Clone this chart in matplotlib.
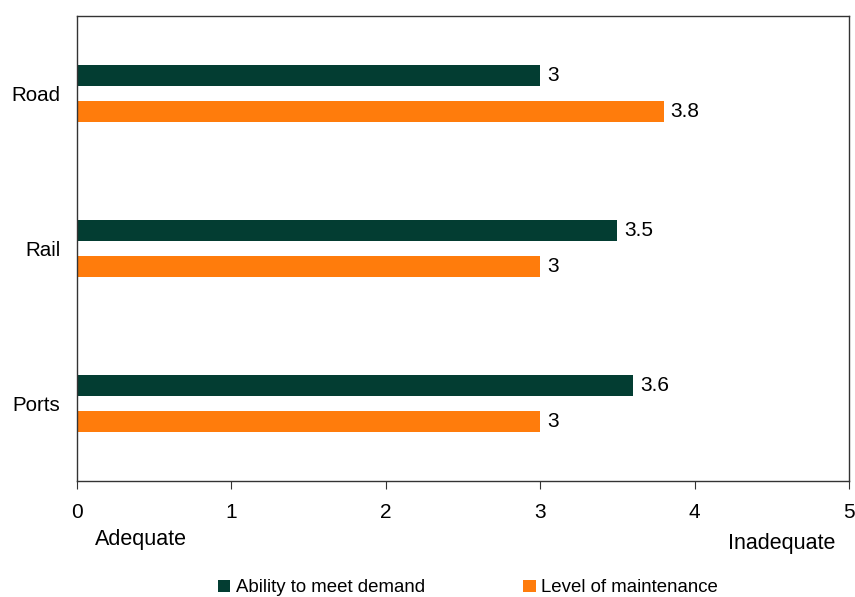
import matplotlib
matplotlib.use("Agg")
import matplotlib.pyplot as plt
import numpy as np

plt.rcParams['font.family'] = ['Liberation Sans', 'DejaVu Sans']

categories = ["Ports", "Rail", "Road"]
ability = [3.6, 3.5, 3.0]
maintenance = [3.0, 3.0, 3.8]
series_names = ["Ability to meet demand", "Level of maintenance"]
colors = ["#033d32", "#ff7c0c"]
xticks = [0, 1, 2, 3, 4, 5]

fig = plt.figure(figsize=(8.55, 5.97), dpi=100)
ax = fig.add_axes([77/855, 1-481/597, (849-77)/855, (481-16)/597])

y = np.arange(len(categories))
h = 0.135
off = 0.116
b1 = ax.barh(y + off, ability, height=h, color=colors[0], label=series_names[0])
b2 = ax.barh(y - off, maintenance, height=h, color=colors[1], label=series_names[1])

for bars, vals in ((b1, ability), (b2, maintenance)):
    for rect, v in zip(bars, vals):
        ax.annotate(f"{v:g}", xy=(v, rect.get_y() + rect.get_height()/2),
                    xytext=(5, 0), textcoords="offset points",
                    ha="left", va="center", fontsize=15)

ax.set_xlim(0, 5)
ax.set_ylim(-0.5, 2.5)
ax.set_xticks(xticks)
ax.set_xticklabels([str(t) for t in xticks], fontsize=15)
ax.set_yticks(y)
ax.set_yticklabels(categories, fontsize=14.8)
ax.tick_params(axis='y', length=0, pad=12)
ax.tick_params(axis='x', length=6, direction='out', pad=10, color='#333333')
for s in ax.spines.values():
    s.set_color('#333333')
    s.set_linewidth(1.0)

fig.text(141/855, 1-540/597, "Adequate", ha="center", va="center", fontsize=15.5)
fig.text(782/855, 1-543/597, "Inadequate", ha="center", va="center", fontsize=15.5)

fig.legend(handles=[b1, b2], labels=series_names, loc="center",
           bbox_to_anchor=(468/855, 1-588/597), ncol=2, frameon=False,
           fontsize=13.4, handlelength=0.65, handleheight=0.65,
           handletextpad=0.3, columnspacing=5.3)

fig.savefig("out.png", dpi=100)
